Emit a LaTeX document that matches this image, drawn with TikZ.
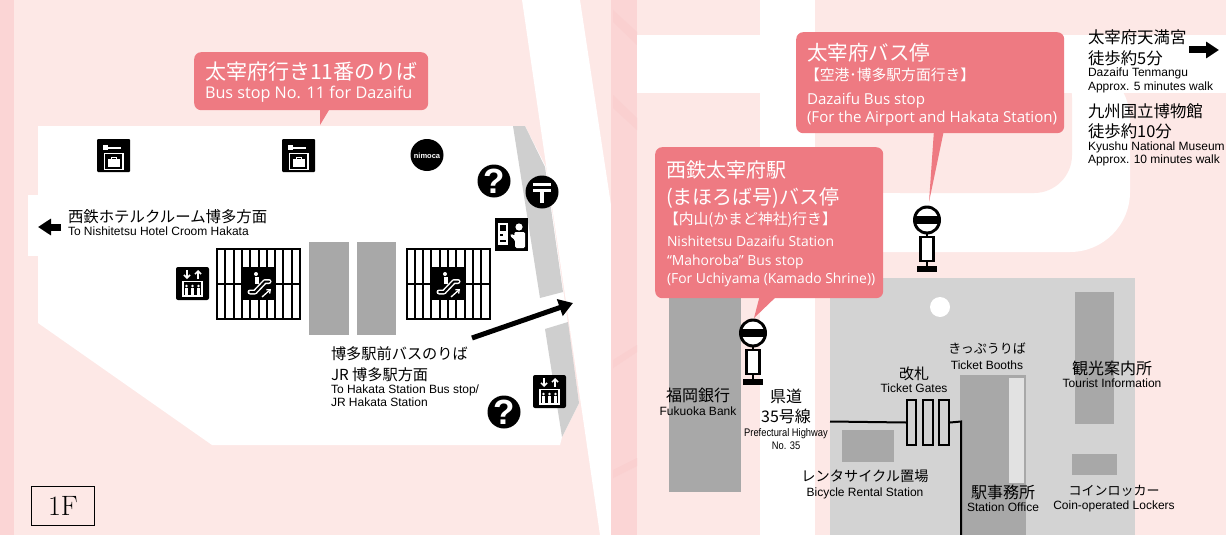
\documentclass[tikz,border=0pt]{standalone}
\usepackage{fontspec}
\usepackage{graphicx}
\usetikzlibrary{arrows.meta}
\setmainfont{Liberation Sans}
\newfontfamily\jpf{Noto Sans CJK JP}
\newfontfamily\opf{Open Sans}
\newfontfamily\lmf{Latin Modern Roman}
\newcommand{\fsz}[1]{\fontsize{#1}{#1}\selectfont}
\definecolor{basepink}{HTML}{FDE8E6}
\definecolor{strip}{HTML}{FBD5D5}
\definecolor{stripb}{HTML}{FAD0D0}
\definecolor{callout}{HTML}{EE7A82}
\definecolor{dgray}{HTML}{A8A8A8}
\definecolor{lgray}{HTML}{D3D3D3}
\definecolor{bandgray}{HTML}{CFCFCF}
\definecolor{pale}{HTML}{E2E2E2}
\tikzset{
  x=1pt,y=-1pt,
  lab/.style={inner sep=0pt,outer sep=0pt},
  jl/.style={lab,anchor=base west,font=\jpf\fsz{#1}},
  jc/.style={lab,anchor=base,font=\jpf\fsz{#1}},
  el/.style={lab,anchor=base west,font=\fsz{#1}},
  ec/.style={lab,anchor=base,font=\fsz{#1}},
  wj/.style={jl=#1,text=white},
  we/.style={lab,anchor=base west,text=white,font=\opf\fsz{#1}},
  fatarrow/.style={line width=7pt,-{Triangle[length=13pt,width=16pt]}},
  diagarrow/.style={line width=5pt,-{Triangle[length=14pt,width=17pt]}},
  wire/.style={line width=2pt,black},
  gatebox/.style={draw=black,line width=2pt,fill=lgray},
  bubble/.style={fill=callout,rounded corners=7pt},
  pics/locker/.style={code={
    \fill[black,rounded corners=1pt] (0,0) rectangle (33,33);
    \fill[white] (6,6) rectangle (11,11);
    \fill[white] (11,7.5) rectangle (24,9.5);
    \draw[white,line width=1.6pt] (7.5,14.5) rectangle (26,30.5);
    \fill[white] (11,20) rectangle (22.5,27.5);
    \draw[white,line width=1pt] (14.5,20) -- (14.5,18) -- (19,18) -- (19,20);
  }},
  pics/elev/.style={code={
    \fill[black,rounded corners=2pt] (0,0) rectangle (33,33);
    \draw[white,line width=1.5pt,-{Straight Barb[length=3pt,width=6pt]}] (11,3) -- (11,12);
    \draw[white,line width=1.5pt,-{Straight Barb[length=3pt,width=6pt]}] (22,12) -- (22,3);
    \draw[white,line width=1.4pt] (7,14.5) rectangle (26,29);
    \foreach \i in {10.5,16.5,22.5}{
      \fill[white] (\i,19) circle (1.4);
      \fill[white] (\i-1.6,20.5) rectangle (\i+1.6,27.5);
    }
  }},
  pics/help/.style={code={
    \fill[black] (0,0) circle (16.5);
    \node[lab,text=white,font=\bfseries\fsz{35}] at (0,0) {?};
  }},
  pics/post/.style={code={
    \fill[black] (0,0) circle (16.5);
    \fill[white] (-9,-9) rectangle (9,-6);
    \fill[white] (-9,-3) rectangle (9,0);
    \fill[white] (-2,0) rectangle (2,11);
  }},
  pics/ticket/.style={code={
    \fill[black] (0,0) rectangle (33,33);
    \fill[white] (3,5) rectangle (13,27);
    \fill[black] (5,7) rectangle (11,13);
    \fill[black] (5,16) rectangle (8,18);
    \fill[black] (5,22) rectangle (11,24);
    \fill[white] (24,9) circle (3.6);
    \fill[white,rounded corners=1.5pt] (19,14) -- (30,14) -- (30,30) -- (20,30) -- (20,22) -- (15,18) -- (16,15.5) -- (20,18) -- cycle;
  }},
  pics/esc/.style={code={
    \fill[black] (0,0) rectangle (33,33);
    \fill[white] (13,7) circle (2);
    \fill[white] (11.5,9.5) rectangle (15.5,17);
    \draw[white,line width=5pt,line join=round,line cap=round] (7,25) -- (12,25) -- (22,14.5) -- (26,14.5);
    \draw[black,line width=2pt,line join=round,line cap=round] (7,25) -- (12,25) -- (22,14.5) -- (26,14.5);
    \draw[white,line width=1.3pt,-{Straight Barb[length=3pt,width=5pt]}] (19,30) -- (28,22);
  }},
  pics/grid/.style={code={
    \draw[black,line width=2pt] (0,0) rectangle (83,70);
    \foreach \i in {1,...,9}{\draw[black,line width=2pt] (8.3*\i,0) -- (8.3*\i,70);}
    \draw[black,line width=2pt] (0,35) -- (83,35);
  }},
  pics/busstop/.style={code={
    \fill[black] (0,0) ellipse (14 and 14.5);
    \begin{scope}
      \clip (0,0) ellipse (11 and 11.5);
      \fill[white] (-12,-12) rectangle (12,-4);
      \fill[white] (-12,4) rectangle (12,12);
    \end{scope}
    \draw[black,line width=2pt] (0,13) -- (0,17);
    \draw[black,line width=2.6pt,fill=white] (-6.5,17) rectangle (6.5,41);
    \draw[black,line width=2.4pt] (0,41) -- (0,47);
    \fill[black] (-10,46) rectangle (10,52);
  }},
}
\begin{document}
\begin{tikzpicture}
\useasboundingbox (0,0) rectangle (1226,535);
% ---- backgrounds
\fill[basepink] (0,0) rectangle (1226,535);
\fill[strip] (0,0) rectangle (14,535);
\fill[white] (522,0) -- (580,0) -- (611,205) -- (611,535) -- (600,535) -- cycle;
\fill[strip] (611,0) rectangle (637,535);
\fill[stripb] (613,10) -- (637,32) -- (637,45) -- (613,22) -- cycle;
\fill[stripb] (613,95) -- (637,118) -- (637,130) -- (613,108) -- cycle;
\fill[stripb] (613,360) -- (637,345) -- (637,352) -- (613,368) -- cycle;
\fill[stripb] (613,470) -- (637,458) -- (637,466) -- (613,478) -- cycle;
% left: hall
\fill[white] (38,126) -- (525,126) -- (546,167) -- (579,403) -- (562,437) -- (560,445) -- (212,445) -- (38,323) -- cycle;
\fill[white] (28,195) rectangle (40,256);
\fill[bandgray] (513,126) -- (525,126) -- (545,167) -- (563,292) -- (540,298) -- cycle;
\fill[bandgray] (545,329) -- (568,322) -- (579,403) -- (562,437) -- cycle;
\fill[dgray] (309,242) rectangle (349,335);
\fill[dgray] (357,242) rectangle (396,335);
% right: roads
\fill[white] (637,35) rectangle (1226,93);
\fill[white] (760,0) rectangle (815,535);
\fill[white,rounded corners=60pt] (800,60) -- (1130,60) -- (1130,252) -- (800,252) -- cycle;
\fill[white] (637,35) rectangle (1226,93);
\fill[basepink,rounded corners=38pt] (815,60) -- (1072,60) -- (1072,193) -- (815,193) -- cycle;
\fill[white] (815,35) rectangle (1226,93);
\fill[white] (800,193) rectangle (900,252);
% right: station
\fill[lgray] (830,278) rectangle (1135,535);
\fill[white] (940,307) circle (10);
\fill[dgray] (1075,292) rectangle (1114,424);
\fill[dgray] (669,280) rectangle (741,492);
\fill[dgray] (842,430) rectangle (894,462);
\fill[dgray] (1072,454) rectangle (1117,475);
\fill[dgray] (960,375) rectangle (1026,535);
\fill[pale] (1009,378) rectangle (1024,483);
% ---- left panel
\fill[callout] (320,105) -- (332,105) -- (320,125) -- cycle;
\node[bubble,minimum width=234pt,minimum height=58pt,anchor=north west] (bubbleA) at (194,52) {};
\node[wj=21] (tA) at (205,79) {太宰府行き11番のりば};
\node[we=16.2] (tAe) at (205,98) {Bus stop No. 11 for Dazaifu};
\pic at (97,139) {locker};
\pic at (282,139) {locker};
\fill[black] (427,155) ellipse (16.5 and 16);
\node[lab,text=white,font=\bfseries\fsz{7.5}] (nim) at (427,155.5) {nimoca};
\pic at (494,181) {help};
\pic at (542,192) {post};
\pic at (495,218) {ticket};
\pic at (176,267) {elev};
\pic at (533,375) {elev};
\pic at (504,412) {help};
\pic at (217,249) {grid};
\pic at (406.5,249) {grid};
\pic at (243,267) {esc};
\pic at (432,267) {esc};
\coordinate (wS) at (61,227);
\coordinate (wE) at (38,227);
\draw[fatarrow] (wS) -- (wE);
\node[jl=15.4] (tB) at (68,222) {西鉄ホテルクルーム博多方面};
\node[el=12] (tBe) at (68,235) {To Nishitetsu Hotel Croom Hakata};
\coordinate (dS) at (472,338);
\coordinate (dE) at (573,303);
\draw[diagarrow] (dS) -- (dE);
\node[jl=15.2] (tC) at (331,359) {博多駅前バスのりば};
\node[jl=15.2] (tD) at (331,380) {JR 博多駅方面};
\node[el=12] (tDe) at (331,393) {To Hakata Station Bus stop/};
\node[el=12] (tDf) at (331,406) {JR Hakata Station};
\node[draw=black,line width=0.8pt,minimum width=63pt,minimum height=39pt,inner sep=0pt,anchor=north west,font=\lmf\fsz{28}] (floor) at (31,486) {1F};
% ---- right panel callouts
\fill[callout] (934,130) -- (944,130) -- (929,202) -- cycle;
\node[bubble,minimum width=268pt,minimum height=101pt,anchor=north west] (bubbleB) at (796,32) {};
\node[wj=20.5] (tE) at (807,60) {太宰府バス停};
\node[wj=14.8] (tF) at (805,81) {【空港･博多駅方面行き】};
\node[we=15.1] (tG) at (807,104) {Dazaifu Bus stop};
\node[we=15.1] (tH) at (807,122) {(For the Airport and Hakata Station)};
\fill[callout] (760,295) -- (778,295) -- (754,318) -- cycle;
\node[bubble,minimum width=228pt,minimum height=151pt,anchor=north west] (bubbleC) at (655,147) {};
\node[wj=20] (tI) at (666,177) {西鉄太宰府駅};
\node[wj=20] (tJ) at (666,204) {(まほろば号)バス停};
\node[wj=14.8] (tK) at (664,224) {【内山(かまど神社)行き】};
\node[we=13.9] (tL) at (667,246) {Nishitetsu Dazaifu Station};
\node[we=13.9] (tM) at (667,265) {“Mahoroba” Bus stop};
\node[we=13.9] (tN) at (667,283) {(For Uchiyama (Kamado Shrine))};
\pic at (927,220) {busstop};
\pic at (753,333) {busstop};
% top-right labels
\node[jl=16.4] (tO) at (1088,44) {太宰府天満宮};
\node[jl=16.4] (tP) at (1088,64) {徒歩約5分};
\node[el=12] (tQ) at (1088,77) {Dazaifu Tenmangu};
\node[el=12] (tR) at (1088,90) {Approx. 5 minutes walk};
\node[jl=16.4] (tS) at (1088,117) {九州国立博物館};
\node[jl=16.4] (tT) at (1088,137) {徒歩約10分};
\node[el=12] (tU) at (1088,150) {Kyushu National Museum};
\node[el=12] (tV) at (1088,163) {Approx. 10 minutes walk};
\coordinate (rS) at (1189,50);
\coordinate (rE) at (1219,50);
\draw[fatarrow] (rS) -- (rE);
% lower labels
\node[jc=16] (l1) at (698,401) {福岡銀行};
\node[ec=12] (l1e) at (698,415) {Fukuoka Bank};
\node[jc=16] (l2) at (786,402) {県道};
\node[jc=16] (l2b) at (786,422) {35号線};
\node[ec=11] (l2c) at (786,436) {\scalebox{.85}[1]{Prefectural Highway}};
\node[ec=11] (l2d) at (786,449) {\scalebox{.85}[1]{No. 35}};
\node[jc=15] (l3) at (914,379) {改札};
\node[ec=12] (l3e) at (914,392) {Ticket Gates};
\node[jc=13] (l4) at (987,353) {きっぷうりば};
\node[ec=12] (l4e) at (987,369) {Ticket Booths};
\node[jc=16] (l5) at (1112,374) {観光案内所};
\node[ec=12] (l5e) at (1112,387) {Tourist Information};
\node[jc=14.2] (l6) at (865,481) {レンタサイクル置場};
\node[ec=12] (l6e) at (865,496) {Bicycle Rental Station};
\node[jc=16] (l7) at (1003,498) {駅事務所};
\node[ec=12] (l7e) at (1003,511) {Station Office};
\node[jc=13] (l8) at (1114,495) {コインロッカー};
\node[ec=12] (l8e) at (1114,509) {Coin-operated Lockers};
% gates and wires
\node[gatebox,minimum width=9pt,minimum height=45pt,inner sep=0pt,anchor=north west] (g1) at (906,399) {};
\node[gatebox,minimum width=10pt,minimum height=45pt,inner sep=0pt,anchor=north west] (g2) at (922,399) {};
\node[gatebox,minimum width=10pt,minimum height=45pt,inner sep=0pt,anchor=north west] (g3) at (938,399) {};
\coordinate (wA) at (830,421.5);
\coordinate (wB) at (961,421.5);
\coordinate (wC) at (961,535);
\draw[wire] (wA) -- (g1.west);
\draw[wire] (g3.east) -- (wB) -- (wC);
\end{tikzpicture}
\end{document}
